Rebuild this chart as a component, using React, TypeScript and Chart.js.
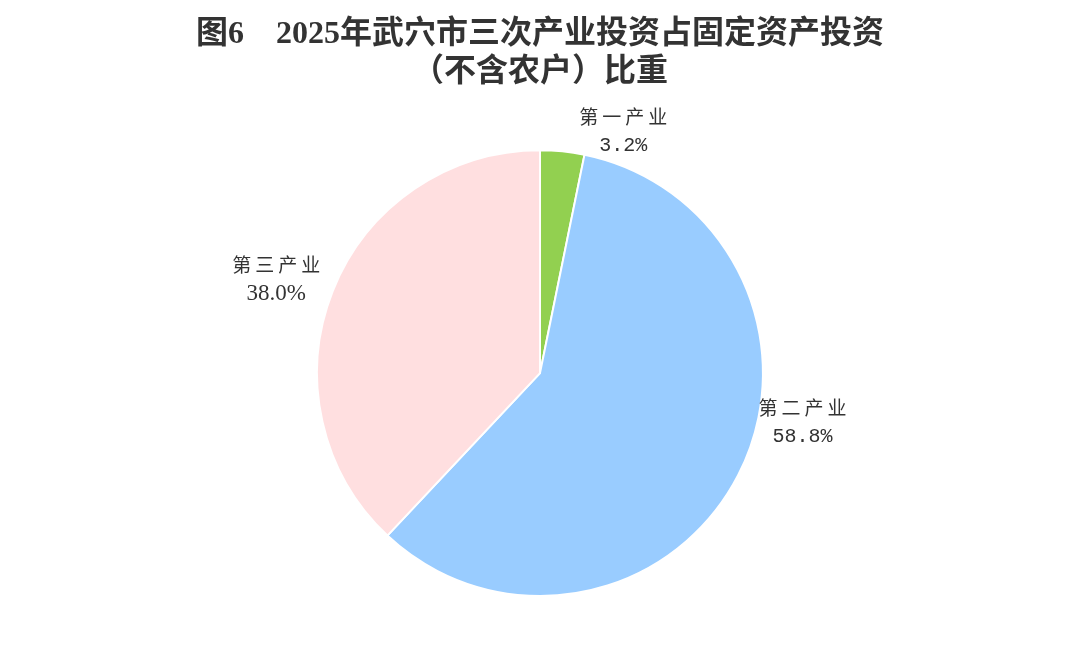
import React, { useEffect, useRef } from "react";
import { Chart, registerables } from "chart.js";

Chart.register(...registerables);

const titleLines = ["图6　2025年武穴市三次产业投资占固定资产投资", "（不含农户）比重"];
const categories = ["第一产业", "第二产业", "第三产业"];
const shares = [3.2, 58.8, 38.0];
const valueLabels = ["3.2%", "58.8%", "38.0%"];
const sliceColors = ["#92d050", "#99ccff", "#ffdfe0"];

// label placement tweaks (degrees / px beyond the rim)
const labelAngleShift = [13.2, -16.8, -2];
const labelGap = [33, 44, 57];
const valueFonts = [
  "20px 'Liberation Mono', monospace",
  "20px 'Liberation Mono', monospace",
  "23px 'Liberation Serif', serif",
];

const labelPlugin = {
  id: "sliceLabels",
  afterDatasetsDraw(chart: any) {
    const meta = chart.getDatasetMeta(0);
    const ctx = chart.ctx as CanvasRenderingContext2D;
    ctx.save();
    ctx.fillStyle = "#333333";
    ctx.textAlign = "center";
    ctx.textBaseline = "middle";
    meta.data.forEach((arc: any, i: number) => {
      const p = arc.getProps(["x", "y", "startAngle", "endAngle", "outerRadius"], true);
      const mid = (p.startAngle + p.endAngle) / 2 + (labelAngleShift[i] * Math.PI) / 180;
      const r = p.outerRadius + labelGap[i];
      const cx = p.x + Math.cos(mid) * r;
      const cy = p.y + Math.sin(mid) * r;
      ctx.font = "19px 'Noto Sans CJK SC', sans-serif";
      (ctx as any).letterSpacing = "4px";
      ctx.fillText(categories[i], cx + 2, cy - 14);
      (ctx as any).letterSpacing = "0px";
      ctx.font = valueFonts[i];
      ctx.fillText(valueLabels[i], cx, cy + 15);
    });
    ctx.restore();
  },
};

export default function App() {
  const ref = useRef<HTMLCanvasElement | null>(null);
  useEffect(() => {
    document.body.style.margin = "0";
    const chart = new Chart(ref.current!, {
      type: "pie",
      data: {
        labels: categories,
        datasets: [
          {
            data: shares,
            backgroundColor: sliceColors,
            borderColor: "#ffffff",
            borderWidth: 2,
          },
        ],
      },
      options: {
        animation: false,
        responsive: false,
        layout: { padding: { top: 0, bottom: 52 } },
        plugins: {
          legend: { display: false },
          tooltip: { enabled: false },
          title: {
            display: true,
            text: titleLines,
            color: "#333333",
            font: {
              family: "'Liberation Serif', 'Noto Sans CJK SC', serif",
              size: 32,
              weight: "bold",
              lineHeight: 1.19,
            },
            padding: { top: 16, bottom: 57 },
          },
        },
      },
      plugins: [labelPlugin],
    });
    return () => chart.destroy();
  }, []);
  return <canvas ref={ref} width={1080} height={649} style={{ display: "block" }} />;
}
